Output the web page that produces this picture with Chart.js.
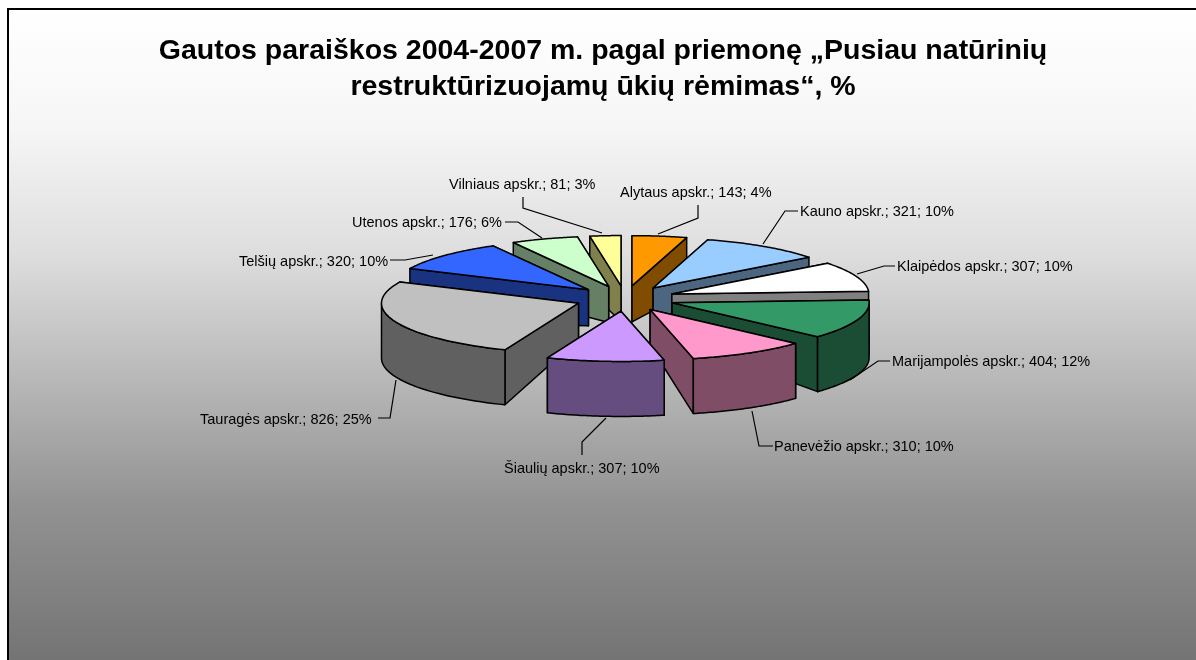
<!DOCTYPE html>
<html><head><meta charset="utf-8">
<script src="https://cdn.jsdelivr.net/npm/chart.js@4/dist/chart.umd.min.js"></script>
<style>html,body{margin:0;padding:0;background:#fff;overflow:hidden}#w{width:1196px;height:660px;position:relative}</style>
</head><body><div id="w"><canvas id="c" width="1196" height="660"></canvas></div>
<script>
const regions=["Alytaus apskr.","Kauno apskr.","Klaipėdos apskr.","Marijampolės apskr.","Panevėžio apskr.","Šiaulių apskr.","Tauragės apskr.","Telšių apskr.","Utenos apskr.","Vilniaus apskr."];
const counts=[143,321,307,404,310,307,826,320,176,81];
const percents=[4,10,10,12,10,10,25,10,6,3];
const topColors=["#FF9900","#99CCFF","#FFFFFF","#339966","#FF99CC","#CC99FF","#C0C0C0","#3366FF","#CCFFCC","#FFFF99"];
const wallColors=["#804D00","#4D6680","#808080","#1A4D33","#804D66","#664D80","#606060","#1A3380","#668066","#80804D"];
const titleLines=["Gautos paraiškos 2004-2007 m. pagal priemonę „Pusiau natūrinių","restruktūrizuojamų ūkių rėmimas“, %"];

// Layout of the labels and their leader lines
const labelLayout=[
 {x:620,y:193,line:[[698,205],[698,218],[658,234]]},
 {x:800,y:212,line:[[798,211],[785,211],[763,244]]},
 {x:897,y:267,line:[[895,266],[884,266],[857,274]]},
 {x:892,y:362,line:[[890,361],[878,361],[850,380]]},
 {x:774,y:447,line:[[773,446],[759,446],[752,411]]},
 {x:504,y:469,line:[[582,455],[582,442],[606,418]]},
 {x:200,y:420,line:[[378,418],[390,418],[396,380]]},
 {x:239,y:262,line:[[390,260],[405,260],[433,255]]},
 {x:352,y:223,line:[[505,222],[518,222],[542,238]]},
 {x:449,y:185,line:[[523,197],[523,208],[602,233]]}
];
const CX=625,CY=298.5,TILT=0.255,RIM=55,HUB=36,EXPLODE=50,RADIUS=197;

function seg(ctx,pts,fill){
  ctx.beginPath();pts.forEach((p,i)=>i?ctx.lineTo(p[0],p[1]):ctx.moveTo(p[0],p[1]));ctx.closePath();
  ctx.fillStyle=fill;ctx.fill();ctx.stroke();
}
const pie3d={
 id:'pie3d',
 beforeDraw(chart){
  const {ctx,width,height}=chart;
  ctx.save();
  ctx.fillStyle='#fff';ctx.fillRect(0,0,width,height);
  const g=ctx.createLinearGradient(0,10,0,660);
  [[0,'#ffffff'],[116/650,'#f6f6f6'],[242/650,'#dedede'],[369/650,'#b8b8b8'],[495/650,'#929292'],[1,'#747474']].forEach(s=>g.addColorStop(s[0],s[1]));
  ctx.fillStyle=g;ctx.fillRect(7,8,width-7,height-8);
  ctx.fillStyle='#000';ctx.fillRect(7,8,width-7,2);ctx.fillRect(7,8,2,height-8);
  ctx.restore();
 },
 beforeDatasetDraw(chart,args){
  const ctx=chart.ctx,arcs=args.meta.data;
  const order=arcs.map((a,i)=>i).sort((p,q)=>{
    const m=i=>(arcs[i].startAngle+arcs[i].endAngle)/2;
    return Math.sin(m(p))-Math.sin(m(q));
  });
  ctx.save();
  ctx.lineJoin='round';ctx.lineWidth=1.5;ctx.strokeStyle='#000';
  order.forEach(i=>{
    const a=arcs[i],s=a.startAngle,e=a.endAngle,mid=(s+e)/2;
    const R=a.outerRadius;
    const ox=Math.cos(mid)*EXPLODE, oy=Math.sin(mid)*EXPLODE;
    const hx=CX+ox, hy=CY+oy*TILT;
    const P=t=>[hx+Math.cos(t)*R,hy+Math.sin(t)*R*TILT];
    const hub=[hx,hy],hubB=[hx,hy+HUB];
    const down=p=>[p[0],p[1]+RIM];
    const ps=P(s),pe=P(e);
    const faces=[
      {y:Math.min(ps[1],hy),pts:[hub,ps,down(ps),hubB]},
      {y:Math.min(pe[1],hy),pts:[hub,pe,down(pe),hubB]}
    ].sort((f,g)=>f.y-g.y);
    const wall=[];const wb=[];
    const n=48;
    for(let k=0;k<=n;k++){
      const t=s+(e-s)*k/n;
      if(Math.sin(t)>=-0.02){wall.push(P(t));wb.unshift(down(P(t)));}
    }
    faces.forEach(f=>seg(ctx,f.pts,wallColors[i]));
    if(wall.length>1)seg(ctx,wall.concat(wb),wallColors[i]);
    // Top face drawn by the library's arc element under the tilt transform
    ctx.save();
    ctx.translate(CX,CY);ctx.scale(1,TILT);ctx.translate(ox-a.x,oy-a.y);
    a.draw(ctx);
    ctx.restore();
    const top=[hub];
    for(let k=0;k<=n;k++)top.push(P(s+(e-s)*k/n));
    ctx.beginPath();top.forEach((p,j)=>j?ctx.lineTo(p[0],p[1]):ctx.moveTo(p[0],p[1]));ctx.closePath();ctx.stroke();
  });
  ctx.restore();
  return false;
 },
 afterDatasetsDraw(chart){
  const ctx=chart.ctx;
  ctx.save();
  ctx.strokeStyle='#000';ctx.lineWidth=1.2;ctx.fillStyle='#000';
  ctx.font='14.5px "Liberation Sans"';ctx.textBaseline='middle';ctx.textAlign='left';
  regions.forEach((r,i)=>{
    const l=labelLayout[i];
    ctx.beginPath();l.line.forEach((p,j)=>j?ctx.lineTo(p[0],p[1]):ctx.moveTo(p[0],p[1]));ctx.stroke();
    ctx.fillText(r+'; '+counts[i]+'; '+percents[i]+'%',l.x,l.y);
  });
  ctx.restore();
 }
};
new Chart(document.getElementById('c'),{
 type:'pie',
 data:{labels:regions,datasets:[{data:counts,backgroundColor:topColors,borderWidth:0,radius:RADIUS}]},
 plugins:[pie3d],
 options:{
  responsive:false,animation:false,events:[],
  layout:{padding:{left:10,top:33}},
  plugins:{
   legend:{display:false},tooltip:{enabled:false},
   title:{display:true,text:titleLines,color:'#000',font:{family:'"Liberation Sans"',size:28.5,weight:'bold',lineHeight:1.27},padding:0}
  }
 }
});
</script></body></html>
